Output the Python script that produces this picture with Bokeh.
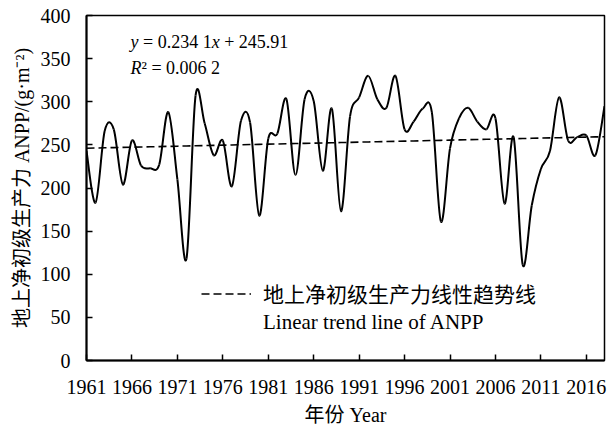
import numpy as np
from bokeh.plotting import figure
from bokeh.models import Range1d, FixedTicker, Label, Legend, LegendItem
from bokeh.embed import file_html
from bokeh.resources import INLINE

# ---------------- data ----------------
years = list(range(1961, 2019))
anpp = [243, 183, 266, 268, 204, 255, 226, 223, 227, 288,
        210, 118, 307, 275, 238, 255, 202, 278, 276, 168,
        257, 263, 303, 215, 303, 301, 220, 292, 173, 283,
        305, 330, 303, 293, 330, 268, 277, 292, 288, 161,
        246, 281, 293, 277, 268, 281, 182, 259, 111, 180,
        222, 243, 305, 255, 259, 261, 238, 295]
x_ticks = [1961, 1966, 1971, 1976, 1981, 1986, 1991, 1996, 2001, 2006, 2011, 2016]
y_ticks = [0, 50, 100, 150, 200, 250, 300, 350, 400]
slope = 0.2341
intercept = 245.91
eq_parts = [("y", "italic"), (" = 0.234 1", "normal"), ("x", "italic"), (" + 245.91", "normal")]
r2_parts = [("R", "italic"), ("\u00b2 = 0.006 2", "normal")]
legend_cn = "地上净初级生产力线性趋势线"
legend_en = "Linear trend line of ANPP"
x_label = "年份 Year"
y_label = "地上净初级生产力 ANPP/(g·m\u207b\u00b2)"

SERIF = "Liberation Serif"
MIXED = "'Liberation Serif', 'Noto Sans CJK SC'"

p = figure(frame_width=518, frame_height=345, output_backend="svg", toolbar_location=None,
           x_range=Range1d(1961, 2018), y_range=Range1d(0, 400),
           min_border_left=86, min_border_right=4, min_border_top=15, min_border_bottom=60)
p.background_fill_color = "white"
p.border_fill_color = "white"
p.outline_line_color = "black"
p.outline_line_width = 1.5
p.xgrid.visible = False
p.ygrid.visible = False

# smoothed series (cubic Bezier through the data points, Excel-like smoothing)
X = np.array(years, dtype=float)
Y = np.array(anpp, dtype=float)
Xp = np.concatenate([[X[0]], X, [X[-1]]])
Yp = np.concatenate([[Y[0]], Y, [Y[-1]]])
n = len(X)
cx0 = X[:-1] + (X[1:] - Xp[0:n - 1]) / 6.0
cy0 = Y[:-1] + (Y[1:] - Yp[0:n - 1]) / 6.0
cx1 = X[1:] - (Xp[3:n + 2] - X[:-1]) / 6.0
cy1 = Y[1:] - (Yp[3:n + 2] - Y[:-1]) / 6.0
p.bezier(x0=X[:-1], y0=Y[:-1], x1=X[1:], y1=Y[1:], cx0=cx0, cy0=cy0, cx1=cx1, cy1=cy1,
         line_color="black", line_width=2)

trend_y = intercept + slope * np.arange(1, n + 1)
trend = p.line(years, trend_y, line_color="black", line_width=1.6, line_dash="8 4")
dummy = p.line(x=[], y=[], line_alpha=0)

# axes
for ax in (p.xaxis[0], p.yaxis[0]):
    ax.axis_line_width = 2
    ax.axis_line_color = "black"
    ax.major_tick_in = 6
    ax.major_tick_out = 0
    ax.major_tick_line_width = 1.5
    ax.minor_tick_line_color = None
    ax.major_label_text_font = SERIF
    ax.major_label_text_font_size = "20px"
    ax.major_label_text_color = "black"
    ax.axis_label_text_font = MIXED
    ax.axis_label_text_font_size = "20px"
    ax.axis_label_text_font_style = "normal"
    ax.axis_label_text_color = "black"

p.xaxis.ticker = FixedTicker(ticks=x_ticks)
p.yaxis.ticker = FixedTicker(ticks=y_ticks)
p.xaxis.axis_label = x_label
p.yaxis.axis_label = y_label
p.xaxis.major_label_standoff = 19
p.xaxis.axis_label_standoff = 7
p.yaxis.major_label_standoff = 16
p.yaxis.axis_label_standoff = 5

# equation text, pieces placed side by side (Times metrics)
def put_parts(parts, yv, x0, size_px):
    char_w = {" ": 0.25, "=": 0.564, "+": 0.564, ".": 0.25, "\u00b2": 0.3,
              "y": 0.444, "x": 0.444, "R": 0.611}
    off = x0
    for txt, style in parts:
        lead = len(txt) - len(txt.lstrip(" "))
        off += lead * char_w[" "] * size_px
        body = txt.strip(" ")
        p.add_layout(Label(x=1961, y=yv, x_offset=off, text=body, text_font=SERIF,
                           text_font_size=f"{size_px}px", text_font_style=style,
                           text_baseline="middle", text_align="left", text_color="black"))
        off += sum(char_w.get(ch, 0.5) for ch in body) * size_px
        trail = len(txt) - len(txt.rstrip(" "))
        off += trail * char_w[" "] * size_px

put_parts(eq_parts, 368.7, 44, 18)
put_parts(r2_parts, 339.7, 44, 18)

legend = Legend(items=[LegendItem(label=legend_cn, renderers=[trend]),
                       LegendItem(label=legend_en, renderers=[dummy])],
                location=(115, 25), orientation="vertical",
                padding=0, margin=0, spacing=2, glyph_width=50, glyph_height=21,
                label_height=21, label_standoff=12,
                label_text_font=MIXED, label_text_font_size="21px", label_text_color="black",
                background_fill_alpha=0, border_line_alpha=0)
p.add_layout(legend)

open("out.html", "w").write(file_html(p, INLINE))
